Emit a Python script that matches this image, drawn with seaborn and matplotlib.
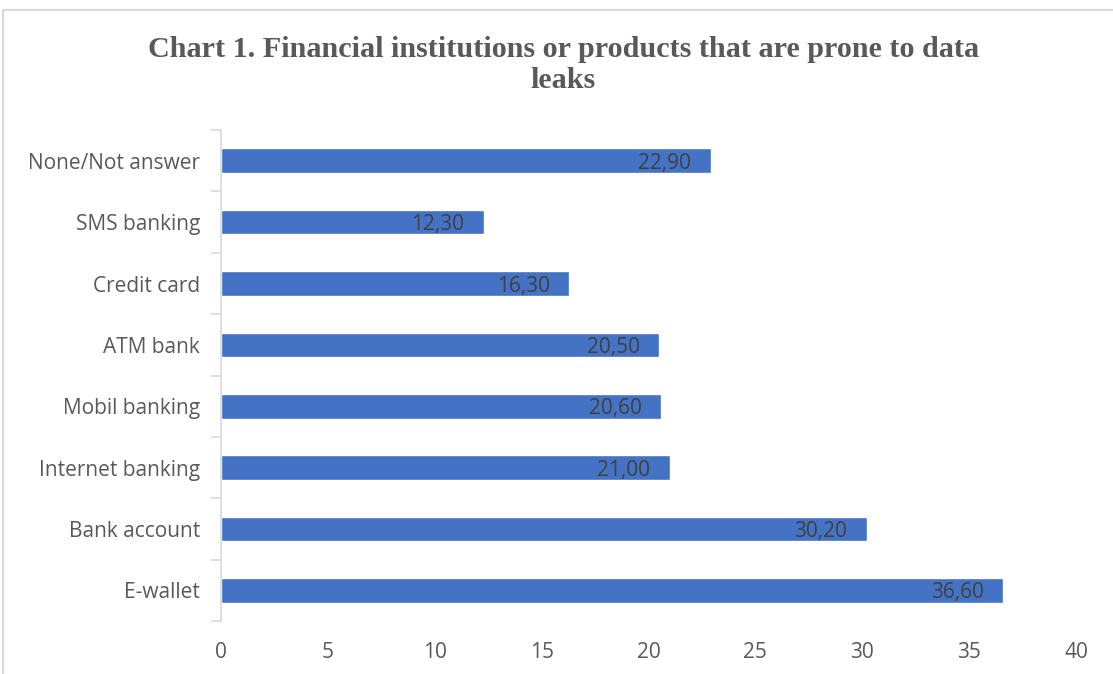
import matplotlib
matplotlib.use("Agg")
import matplotlib.pyplot as plt
import seaborn as sns
import pandas as pd
from matplotlib.patches import Rectangle

categories = ["None/Not answer", "SMS banking", "Credit card", "ATM bank",
              "Mobil banking", "Internet banking", "Bank account", "E-wallet"]
values = [22.90, 12.30, 16.30, 20.50, 20.60, 21.00, 30.20, 36.60]
x_ticks = [0, 5, 10, 15, 20, 25, 30, 35, 40]
title = "Chart 1. Financial institutions or products that are prone to data\nleaks"

sns.set_theme(style="white")
plt.rcParams['font.family'] = ['Open Sans', 'DejaVu Sans']

df = pd.DataFrame({"cat": categories, "val": values})

fig = plt.figure(figsize=(11.13, 6.74), dpi=100)
fig.patch.set_facecolor("white")
ax = fig.add_axes([0.1986, 0.0786, 0.9668 - 0.1986, 0.807 - 0.0786])

sns.barplot(data=df, x="val", y="cat", order=categories, orient="h",
            color="#4472C4", saturation=1, width=0.4, ax=ax)

ax.set_xlim(0, 40)
ax.set_ylim(len(categories) - 0.5, -0.5)
ax.set_xticks(x_ticks)
ax.set_xticklabels([str(t) for t in x_ticks])
ax.set_xlabel("")
ax.set_ylabel("")

for s in ["top", "right", "bottom"]:
    ax.spines[s].set_visible(False)
ax.spines["left"].set_color("#D9D9D9")
ax.spines["left"].set_linewidth(1.2)

ax.tick_params(axis="x", length=0, labelsize=15, labelcolor="#595959", pad=15)
ax.tick_params(axis="y", which="major", left=False, length=0, labelsize=15,
               labelcolor="#595959", pad=15)
ax.set_yticks([i - 0.5 for i in range(len(categories) + 1)], minor=True)
ax.tick_params(axis="y", which="minor", left=True, length=7, color="#D9D9D9", width=1.2)

for cont in ax.containers:
    labels = ax.bar_label(cont, labels=[f"{v:.2f}".replace(".", ",") for v in values],
                          padding=-14, fontsize=15, color="#404040")
    for t in labels:
        t.set_ha("right")
        t.set_va("center_baseline")

fig.text(0.506, 0.903, title, ha="center", va="center", fontsize=21.7, fontweight="bold",
         color="#595959", family=["Liberation Serif", "DejaVu Serif"], linespacing=1.2)

fig.patches.append(Rectangle((0.0027, -0.05), 1.1, 1.035, transform=fig.transFigure,
                             fill=False, edgecolor="#D9D9D9", linewidth=1.5))

fig.savefig("out.png", dpi=100, facecolor="white")
